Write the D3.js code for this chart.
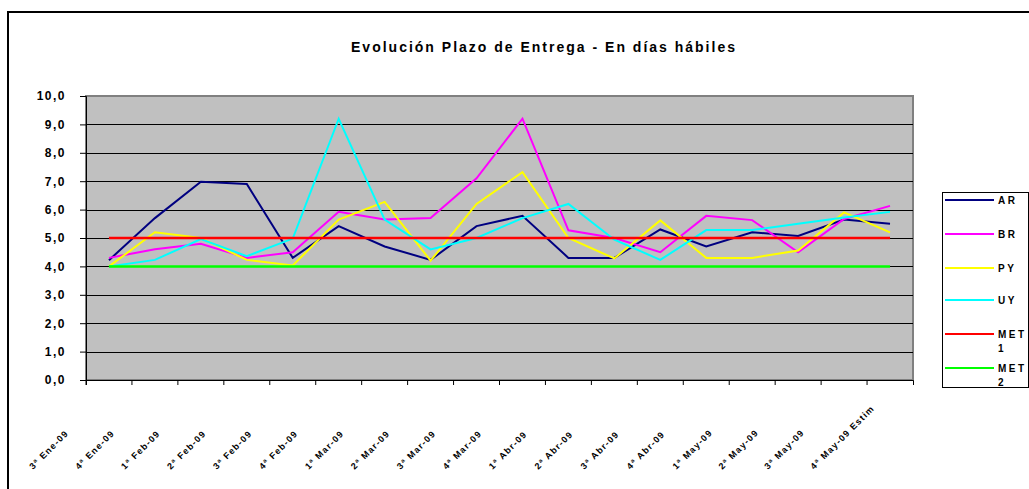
<!DOCTYPE html>
<html>
<head>
<meta charset="utf-8">
<script src="https://cdn.jsdelivr.net/npm/d3@7"></script>
<style>
  body { margin: 0; background: #fff; }
  svg text { font-family: "Liberation Sans", Arial, sans-serif; font-weight: bold; fill: #000; }
</style>
</head>
<body>
<svg class="chart"></svg>
<script>
const periods = ["3ª Ene-09", "4ª Ene-09", "1ª Feb-09", "2ª Feb-09", "3ª Feb-09", "4ª Feb-09",
  "1ª Mar-09", "2ª Mar-09", "3ª Mar-09", "4ª Mar-09", "1ª Abr-09", "2ª Abr-09",
  "3ª Abr-09", "4ª Abr-09", "1ª May-09", "2ª May-09", "3ª May-09", "4ª May-09 Estim"];

const ar = [4.22, 5.7, 6.98, 6.9, 4.3, 5.42, 4.7, 4.23, 5.42, 5.78, 4.3, 4.3, 5.3, 4.7, 5.2, 5.07, 5.65, 5.5];
const br = [4.3, 4.6, 4.8, 4.3, 4.5, 5.92, 5.65, 5.7, 7.1, 9.2, 5.27, 5.0, 4.5, 5.78, 5.63, 4.5, 5.67, 6.13];
const py = [4.0, 5.2, 5.0, 4.23, 4.03, 5.65, 6.27, 4.2, 6.2, 7.32, 5.0, 4.28, 5.62, 4.3, 4.3, 4.56, 5.9, 5.2];
const uy = [4.0, 4.23, 4.96, 4.36, 4.98, 9.2, 5.65, 4.6, 5.0, 5.7, 6.2, 4.94, 4.23, 5.28, 5.28, 5.5, 5.72, 5.92];
const met1 = periods.map(() => 5);
const met2 = periods.map(() => 4);

const seriesNames = ["AR", "BR", "PY", "UY", "MET 1", "MET 2"];
const seriesColors = ["#000080", "#ff00ff", "#ffff00", "#00ffff", "#ff0000", "#00ff00"];
const yTicks = [0, 1, 2, 3, 4, 5, 6, 7, 8, 9, 10];

const W = 1029, H = 489;
const plot = { left: 86, right: 913, top: 96, bottom: 380 };

const svg = d3.select('.chart')
  .attr('width', W)
  .attr('height', H)
  .style('display', 'block');

svg.append('text')
  .attr('x', 544).attr('y', 52)
  .attr('text-anchor', 'middle')
  .style('font-size', '14px')
  .style('letter-spacing', '2px')
  .text('Evolución Plazo de Entrega - En días hábiles');

const x = d3.scaleBand()
  .domain(periods)
  .range([plot.left, plot.right]);

const y = d3.scaleLinear()
  .domain([0, 10])
  .range([plot.bottom, plot.top]);

// plot area
svg.append('rect')
  .attr('x', plot.left).attr('y', plot.top)
  .attr('width', plot.right - plot.left)
  .attr('height', plot.bottom - plot.top)
  .attr('fill', '#c0c0c0')
  .attr('stroke', '#808080')
  .attr('stroke-width', 2);

// gridlines
svg.append('g')
  .selectAll('line')
  .data(yTicks.filter(d => d > 0 && d < 10))
  .enter()
  .append('line')
  .attr('x1', plot.left).attr('x2', plot.right)
  .attr('y1', d => Math.round(y(d)) + 0.5)
  .attr('y2', d => Math.round(y(d)) + 0.5)
  .attr('stroke', '#000');

// y axis
const yAxis = svg.append('g')
  .attr('transform', `translate(${plot.left}, 0)`)
  .call(d3.axisLeft(y).tickValues(yTicks).tickSize(6).tickPadding(14)
    .tickFormat(d => d3.format('.1f')(d).replace('.', ',')));
yAxis.select('.domain').attr('stroke', '#000');
yAxis.selectAll('.tick line').attr('stroke', '#000');
yAxis.selectAll('text')
  .style('font-size', '12px')
  .style('letter-spacing', '1.5px')
  .style('font-family', '"Liberation Sans", Arial, sans-serif');

// x axis
const xAxis = svg.append('g')
  .attr('transform', `translate(0, ${plot.bottom})`)
  .call(d3.axisBottom(x).tickSize(5).tickFormat(''));
xAxis.select('.domain').attr('stroke', '#000');
xAxis.selectAll('.tick line')
  .attr('stroke', '#000')
  .attr('transform', `translate(${-x.bandwidth() / 2}, 0)`);

svg.append('g')
  .selectAll('text')
  .data(periods)
  .enter()
  .append('text')
  .attr('transform', d => `translate(${x(d) + x.bandwidth() / 2 - 76}, 470) rotate(-45)`)
  .style('font-size', '9px')
  .style('letter-spacing', '1.2px')
  .text(d => d);

// series lines
const seriesData = [ar, br, py, uy, met1, met2];
const line = d3.line()
  .x((d, i) => x(periods[i]) + x.bandwidth() / 2)
  .y(d => y(d));

svg.append('g')
  .selectAll('path')
  .data(seriesData)
  .enter()
  .append('path')
  .attr('d', line)
  .attr('fill', 'none')
  .attr('stroke', (d, i) => seriesColors[i])
  .attr('stroke-width', (d, i) => i >= 4 ? 2.5 : 2);

// legend
const legendGroup = svg.append('g');
legendGroup.append('rect')
  .attr('x', 942.5).attr('y', 192.5)
  .attr('width', 86).attr('height', 195)
  .attr('fill', '#fff')
  .attr('stroke', '#000');

const legendY = [200, 234, 268, 300, 334, 368];
const items = legendGroup.selectAll('g.item')
  .data(seriesNames)
  .enter()
  .append('g')
  .attr('class', 'item')
  .attr('transform', (d, i) => `translate(945, ${legendY[i]})`);

items.append('line')
  .attr('x1', 0).attr('x2', 49)
  .attr('stroke', (d, i) => seriesColors[i])
  .attr('stroke-width', 2);

items.each(function (d) {
  const parts = d.split(' ');
  const t = d3.select(this).append('text')
    .attr('x', 53).attr('y', 4)
    .style('font-size', '10px')
    .style('letter-spacing', '2.5px');
  parts.forEach((p, k) => {
    t.append('tspan').attr('x', 53).attr('dy', k === 0 ? 0 : 14).text(p);
  });
});

// outer chart frame: only left and top edges lie inside the picture
svg.append('rect')
  .attr('x', 8).attr('y', 12)
  .attr('width', W + 20).attr('height', H + 20)
  .attr('fill', 'none')
  .attr('stroke', '#000')
  .attr('stroke-width', 2);
</script>
</body>
</html>
